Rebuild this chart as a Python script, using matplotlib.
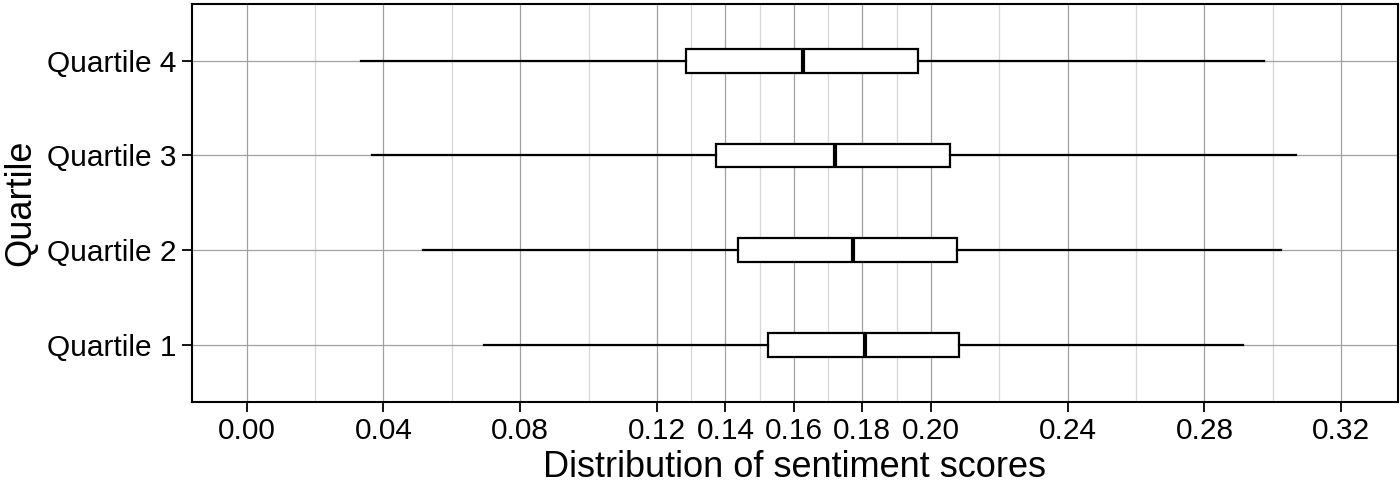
import numpy as np
import matplotlib.pyplot as plt

plt.rcParams['font.family'] = ['Liberation Sans', 'DejaVu Sans']

# valores
quartiles = ["Quartile 1", "Quartile 2", "Quartile 3", "Quartile 4"]
whisker_low = [0.0694, 0.0515, 0.0368, 0.0336]
q1_values = [0.1524, 0.1436, 0.1372, 0.1284]
medians = [0.1808, 0.1772, 0.1719, 0.1628]
q3_values = [0.2083, 0.2076, 0.2055, 0.1964]
whisker_high = [0.2914, 0.3023, 0.3067, 0.2974]

major_ticks = [0.00, 0.04, 0.08, 0.12, 0.14, 0.16, 0.18, 0.20, 0.24, 0.28, 0.32]
minor_ticks = [0.02, 0.06, 0.10, 0.13, 0.15, 0.17, 0.19, 0.22, 0.26, 0.30]

stats = []
for i in range(len(quartiles)):
    stats.append({
        "whislo": whisker_low[i], "q1": q1_values[i], "med": medians[i],
        "q3": q3_values[i], "whishi": whisker_high[i], "fliers": [],
    })

fig = plt.figure(figsize=(14, 4.88), dpi=100)
ax = fig.add_axes([0.137, 0.177, 0.8616, 0.815])

positions = np.arange(1, len(quartiles) + 1)
ax.bxp(stats, positions=positions, vert=False, widths=0.25, showcaps=False,
       patch_artist=True,
       boxprops=dict(facecolor='white', edgecolor='black', linewidth=1.6),
       whiskerprops=dict(color='black', linewidth=1.6),
       medianprops=dict(color='black', linewidth=3.0, solid_capstyle='butt'),
       zorder=3)

ax.set_xlim(-0.016, 0.3366)
ax.set_ylim(0.4, 4.6)

ax.set_xticks(major_ticks)
ax.set_xticklabels([f"{t:.2f}" for t in major_ticks])
ax.set_xticks(minor_ticks, minor=True)
ax.set_yticks(positions)
ax.set_yticklabels(quartiles)

ax.grid(True, which='major', axis='both', color='#a0a0a0', linewidth=0.9, zorder=0)
ax.grid(True, which='minor', axis='x', color='#d6d6d6', linewidth=0.9, zorder=0)
ax.set_axisbelow(True)

ax.tick_params(axis='both', which='major', length=7, width=1.3, labelsize=21.5,
               colors='black', pad=4)
ax.tick_params(axis='x', which='minor', length=0)

for s in ax.spines.values():
    s.set_linewidth(1.5)
    s.set_color('black')

ax.set_xlabel("Distribution of sentiment scores", fontsize=26, labelpad=4)
ax.set_ylabel("Quartile", fontsize=26, labelpad=6)

fig.savefig("out.png", dpi=100)
